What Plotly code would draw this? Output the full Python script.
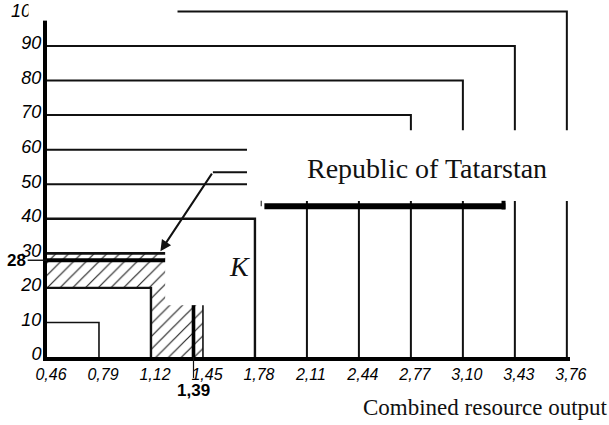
import plotly.graph_objects as go

# ---- data ----
x_ticks = [0.46, 0.79, 1.12, 1.45, 1.78, 2.11, 2.44, 2.77, 3.10, 3.43, 3.76]
x_tick_labels = ["0,46", "0,79", "1,12", "1,45", "1,78", "2,11", "2,44", "2,77", "3,10", "3,43", "3,76"]
y_ticks = [0, 10, 20, 30, 40, 50, 60, 70, 80, 90]
y_tick_labels = ["0", "10", "20", "30", "40", "50", "60", "70", "80", "90"]
y_top_tick = 100
y_top_label = "100"

# step levels (share, %) and their right ends (combined resource output)
step_levels = [10, 20, 40, 50, 60, 70, 80, 90, 100]
step_ends = [0.79, 1.12, 1.78, 2.11, 2.44, 2.77, 3.10, 3.43, 3.76]
step_widths = [1.6, 2.4, 2.4, 2.0, 2.0, 2.0, 2.0, 2.0, 2.0]

level_30 = 30
level_30_end = 1.21
level_28 = 28
level_28_end = 1.21
hatch_x = [0.46, 1.12, 1.12, 1.45, 1.45, 1.21, 1.21, 0.46, 0.46]
hatch_y = [20, 20, 0, 0, 15, 15, 30, 30, 20]
marker_139 = 1.39
marker_145 = 1.45
marker_height = 15

tatarstan_x = [1.84, 3.37]
tatarstan_y = 43.6

arrow_tip = (1.18, 30.6)
arrow_tail = (1.513, 53.5)
leader_end_x = 1.80

X0, X1 = 0.46, 3.78
Y0, Y1 = 0, 101

TICK_FONT = dict(family="Liberation Sans", size=18, color="#000000", style="italic")

fig = go.Figure()

# hatched region
fig.add_trace(go.Scatter(
    x=hatch_x, y=hatch_y, mode="lines", fill="toself",
    line=dict(width=0, color="rgba(0,0,0,0)"),
    fillcolor="rgba(255,255,255,0)",
    fillpattern=dict(shape="/", size=9, solidity=0.13, fgcolor="#222222",
                     bgcolor="rgba(255,255,255,0)", fillmode="replace"),
    hoverinfo="skip", showlegend=False))

# step lines
for lvl, end, w in zip(step_levels, step_ends, step_widths):
    fig.add_trace(go.Scatter(
        x=[X0, end, end], y=[lvl, lvl, 0], mode="lines",
        line=dict(color="#111111", width=w), hoverinfo="skip", showlegend=False))

# 30 line and 28 thick line
fig.add_trace(go.Scatter(x=[X0, level_30_end], y=[level_30, level_30], mode="lines",
                         line=dict(color="#111111", width=2.6), hoverinfo="skip", showlegend=False))
fig.add_trace(go.Scatter(x=[X0, level_28_end], y=[level_28, level_28], mode="lines",
                         line=dict(color="#000000", width=3.8), hoverinfo="skip", showlegend=False))

# markers at 1,39 and 1,45
fig.add_trace(go.Scatter(x=[marker_139, marker_139], y=[0, marker_height], mode="lines",
                         line=dict(color="#000000", width=3.6), hoverinfo="skip", showlegend=False))
fig.add_trace(go.Scatter(x=[marker_145, marker_145], y=[0, marker_height], mode="lines",
                         line=dict(color="#111111", width=1.6), hoverinfo="skip", showlegend=False))

# leader line for the arrow
fig.add_trace(go.Scatter(x=[arrow_tail[0], leader_end_x], y=[arrow_tail[1], arrow_tail[1]], mode="lines",
                         line=dict(color="#111111", width=2), hoverinfo="skip", showlegend=False))

shapes = []
# white box over the upper-left corner
shapes.append(dict(type="rect", xref="paper", yref="paper", x0=-0.035, x1=0.2486, y0=0.965, y1=1.1,
                   fillcolor="white", line=dict(width=0), layer="above"))
# white box holding the "Republic of Tatarstan" label
shapes.append(dict(type="rect", xref="paper", yref="paper", x0=0.3824, x1=1.2, y0=0.447, y1=0.650,
                   fillcolor="white", line=dict(width=0), layer="above"))
# thick Tatarstan bar
shapes.append(dict(type="line", xref="x", yref="y", x0=tatarstan_x[0], x1=tatarstan_x[1],
                   y0=tatarstan_y, y1=tatarstan_y, line=dict(color="black", width=6), layer="above"))
shapes.append(dict(type="line", xref="x", yref="y", x0=tatarstan_x[0] - 0.02, x1=tatarstan_x[0] - 0.02,
                   y0=tatarstan_y, y1=tatarstan_y + 1.6, line=dict(color="#333", width=1.2), layer="above"))
shapes.append(dict(type="line", xref="x", yref="y", x0=tatarstan_x[1] - 0.012, x1=tatarstan_x[1] - 0.012,
                   y0=tatarstan_y - 0.9, y1=tatarstan_y + 1.6, line=dict(color="black", width=4), layer="above"))
# 28 tick to the left of the axis
shapes.append(dict(type="line", xref="paper", yref="y", x0=-0.037, x1=0, y0=level_28, y1=level_28,
                   line=dict(color="#111", width=1.4)))
# 1,39 tick below the axis
shapes.append(dict(type="line", xref="x", yref="paper", x0=marker_139, x1=marker_139, y0=0, y1=-0.06,
                   line=dict(color="#111", width=1.2)))

annotations = [
    dict(x=arrow_tip[0], y=arrow_tip[1], ax=arrow_tail[0], ay=arrow_tail[1], axref="x", ayref="y",
         xref="x", yref="y", text="", showarrow=True, arrowhead=2, arrowsize=1.1, arrowwidth=2,
         arrowcolor="#111111"),
    dict(x=0.7266, y=0.5415, xref="paper", yref="paper", text="Republic of Tatarstan", showarrow=False,
         xanchor="center", yanchor="middle",
         font=dict(family="Liberation Serif", size=28, color="#111111")),
    dict(x=0.369, y=0.258, xref="paper", yref="paper", text="<i>K</i>", showarrow=False,
         xanchor="center", yanchor="middle",
         font=dict(family="Liberation Serif", size=28, color="#111111")),
    dict(x=1.0765, y=-0.146, xref="paper", yref="paper", text="Combined resource output", showarrow=False,
         xanchor="right", yanchor="middle",
         font=dict(family="Liberation Serif", size=23, color="#111111")),
    dict(x=-0.058, y=level_28, xref="paper", yref="y", text="<b>28</b>", showarrow=False,
         xanchor="center", yanchor="middle",
         font=dict(family="Liberation Sans", size=17, color="#000000")),
    dict(x=marker_139, y=-0.095, xref="x", yref="paper", text="<b>1,39</b>", showarrow=False,
         xanchor="center", yanchor="middle",
         font=dict(family="Liberation Sans", size=17, color="#000000")),
    # top tick label, partly hidden by the white corner box (as in the reference)
    dict(x=-0.0076, y=y_top_tick, xref="paper", yref="y", text="<i>" + y_top_label + "</i>", showarrow=False,
         xanchor="right", yanchor="middle", font=TICK_FONT),
    dict(x=0.107, y=0.994, xref="paper", yref="paper", text=" ", showarrow=False,
         xanchor="center", yanchor="middle", width=148, height=20, bgcolor="white", borderpad=0),
]

fig.update_layout(
    width=609, height=425,
    margin=dict(l=47, r=39, t=8, b=68),
    paper_bgcolor="white", plot_bgcolor="white",
    showlegend=False, hovermode=False,
    shapes=shapes, annotations=annotations,
    xaxis=dict(range=[X0, X1], tickvals=x_ticks, ticktext=x_tick_labels, showgrid=False, zeroline=False,
               showline=True, linewidth=4, linecolor="black", ticks="", ticklabelshift=4,
               ticklabelstandoff=0, automargin=False,
               tickfont=dict(family="Liberation Sans", size=16, color="#000000", style="italic")),
    yaxis=dict(range=[Y0, Y1], tickvals=y_ticks, ticktext=y_tick_labels, showgrid=False, zeroline=False,
               showline=True, linewidth=4, linecolor="black", ticks="", ticklabelstandoff=-2,
               ticklabelshift=-3, automargin=False, tickfont=TICK_FONT),
)

fig.write_html("out.html", config={"displayModeBar": False},
               post_script="document.body.style.margin='0px';document.body.style.overflow='hidden';")
